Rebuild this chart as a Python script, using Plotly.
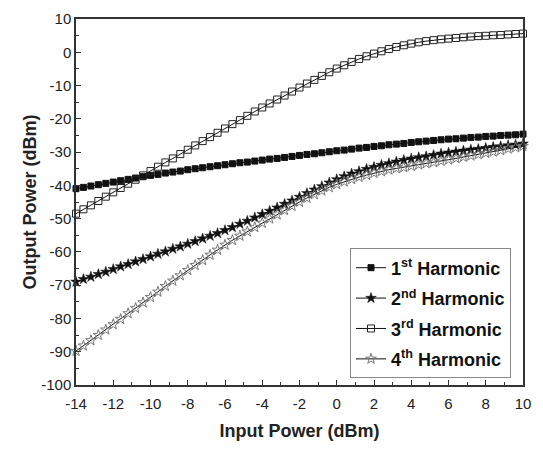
import plotly.graph_objects as go

# Input power sweep (dBm)
input_power = [
    -14.0, -13.6, -13.2, -12.8, -12.4, -12.0, -11.6, -11.2, -10.8, -10.4,
    -10.0, -9.6, -9.2, -8.8, -8.4, -8.0, -7.6, -7.2, -6.8, -6.4,
    -6.0, -5.6, -5.2, -4.8, -4.4, -4.0, -3.6, -3.2, -2.8, -2.4,
    -2.0, -1.6, -1.2, -0.8, -0.4, 0.0, 0.4, 0.8, 1.2, 1.6,
    2.0, 2.4, 2.8, 3.2, 3.6, 4.0, 4.4, 4.8, 5.2, 5.6,
    6.0, 6.4, 6.8, 7.2, 7.6, 8.0, 8.4, 8.8, 9.2, 9.6, 10.0,
]

# Output power of each harmonic (dBm)
harmonic_1 = [
    -41.0, -40.6, -40.2, -39.8, -39.4, -39.0, -38.6, -38.2, -37.8, -37.4,
    -37.0, -36.7, -36.3, -36.0, -35.7, -35.3, -35.0, -34.7, -34.4, -34.1,
    -33.8, -33.5, -33.2, -33.0, -32.7, -32.4, -32.1, -31.9, -31.6, -31.3,
    -31.0, -30.7, -30.5, -30.2, -29.9, -29.6, -29.4, -29.1, -28.8, -28.6,
    -28.3, -28.1, -27.8, -27.6, -27.4, -27.1, -26.9, -26.7, -26.5, -26.3,
    -26.1, -26.0, -25.8, -25.6, -25.5, -25.3, -25.2, -25.0, -24.9, -24.8, -24.6,
]
harmonic_2 = [
    -69.0, -68.2, -67.5, -66.7, -66.0, -65.2, -64.4, -63.7, -62.9, -62.2,
    -61.4, -60.6, -59.9, -59.1, -58.4, -57.6, -56.8, -56.0, -55.2, -54.4,
    -53.5, -52.6, -51.6, -50.7, -49.7, -48.7, -47.7, -46.7, -45.6, -44.6,
    -43.5, -42.4, -41.3, -40.3, -39.2, -38.2, -37.3, -36.5, -35.8, -35.1,
    -34.5, -33.9, -33.4, -32.9, -32.4, -32.0, -31.6, -31.3, -30.9, -30.5,
    -30.2, -29.9, -29.6, -29.3, -29.1, -28.8, -28.5, -28.3, -28.0, -27.8, -27.5,
]
harmonic_3 = [
    -48.5, -47.2, -46.0, -44.7, -43.4, -42.1, -40.8, -39.5, -38.3, -37.0,
    -35.7, -34.4, -33.1, -31.9, -30.6, -29.3, -28.0, -26.7, -25.5, -24.2,
    -22.9, -21.6, -20.4, -19.1, -17.8, -16.6, -15.4, -14.2, -13.0, -11.8,
    -10.6, -9.4, -8.3, -7.1, -6.0, -4.9, -3.9, -2.9, -2.0, -1.2,
    -0.4, 0.3, 1.0, 1.6, 2.1, 2.6, 3.0, 3.35, 3.65, 3.9,
    4.1, 4.3, 4.5, 4.7, 4.85, 4.95, 5.1, 5.2, 5.35, 5.5, 5.6,
]
harmonic_4 = [
    -89.8, -88.2, -86.6, -85.0, -83.4, -81.8, -80.2, -78.5, -76.9, -75.2,
    -73.6, -72.0, -70.3, -68.7, -67.1, -65.5, -64.0, -62.5, -60.9, -59.4,
    -57.9, -56.5, -55.2, -53.9, -52.6, -51.3, -50.0, -48.8, -47.5, -46.2,
    -45.0, -43.8, -42.7, -41.6, -40.6, -39.7, -38.9, -38.2, -37.5, -36.9,
    -36.3, -35.8, -35.3, -34.9, -34.6, -34.2, -33.8, -33.4, -33.1, -32.7,
    -32.3, -31.9, -31.5, -31.1, -30.7, -30.3, -29.9, -29.5, -29.0, -28.6, -28.2,
]

# Axis tick positions and labels (plain hyphen minus signs)
x_ticks = [-14, -12, -10, -8, -6, -4, -2, 0, 2, 4, 6, 8, 10]
x_tick_labels = ["-14", "-12", "-10", "-8", "-6", "-4", "-2", "0", "2", "4", "6", "8", "10"]
y_ticks = [10, 0, -10, -20, -30, -40, -50, -60, -70, -80, -90, -100]
y_tick_labels = ["10", "0", "-10", "-20", "-30", "-40", "-50", "-60", "-70", "-80", "-90", "-100"]

series_names = [
    "<b>1<sup>st</sup> Harmonic</b>",
    "<b>2<sup>nd</sup> Harmonic</b>",
    "<b>3<sup>rd</sup> Harmonic</b>",
    "<b>4<sup>th</sup> Harmonic</b>",
]

styles = [
    dict(symbol="square", size=6, color="#111111", line=dict(color="#111111", width=1)),
    dict(symbol="star", size=8, color="#111111", line=dict(color="#111111", width=0.5)),
    dict(symbol="square-open", size=7, color="#222222", line=dict(width=1)),
    dict(symbol="star-open", size=8, color="#777777", line=dict(width=1)),
]

FONT = "Liberation Sans, Arial, sans-serif"

fig = go.Figure()
for i, (name, ys, mk) in enumerate(zip(series_names,
                                       [harmonic_1, harmonic_2, harmonic_3, harmonic_4],
                                       styles)):
    fig.add_trace(go.Scatter(
        x=input_power, y=ys, name=name, mode="lines+markers",
        line=dict(color="#111111", width=1),
        marker=mk, cliponaxis=False, legendgroup=f"g{i}",
    ))

axis_common = dict(
    showline=True, mirror=True, linecolor="#333333", linewidth=1.5,
    ticks="inside", ticklen=5, tickwidth=1, tickcolor="#333333",
    showgrid=False, zeroline=False,
    tickfont=dict(family=FONT, size=15, color="#222222"),
)

fig.update_xaxes(
    range=[-14, 10], tickmode="array", tickvals=x_ticks, ticktext=x_tick_labels,
    minor=dict(ticks="inside", ticklen=3, dtick=1, tick0=0, tickcolor="#333333"),
    ticklabelstandoff=4,
    title=dict(text="<b>Input Power (dBm)</b>", standoff=14,
               font=dict(family=FONT, size=18, color="#222222")),
    **axis_common,
)
fig.update_yaxes(
    range=[-100, 10], tickmode="array", tickvals=y_ticks, ticktext=y_tick_labels,
    minor=dict(ticks="inside", ticklen=3, dtick=5, tick0=0, tickcolor="#333333"),
    title=dict(text="<b>Output Power (dBm)</b>", standoff=0,
               font=dict(family=FONT, size=18, color="#222222")),
    **axis_common,
)

fig.update_layout(
    width=543, height=452,
    margin=dict(l=76, r=20, t=10, b=67),
    paper_bgcolor="white", plot_bgcolor="white",
    legend=dict(
        x=0.613, y=0.373, xanchor="left", yanchor="top",
        bgcolor="white", bordercolor="#888888", borderwidth=1,
        font=dict(family=FONT, size=18, color="#111111"),
        tracegroupgap=4, itemwidth=30,
    ),
)

fig.write_html("out.html")
